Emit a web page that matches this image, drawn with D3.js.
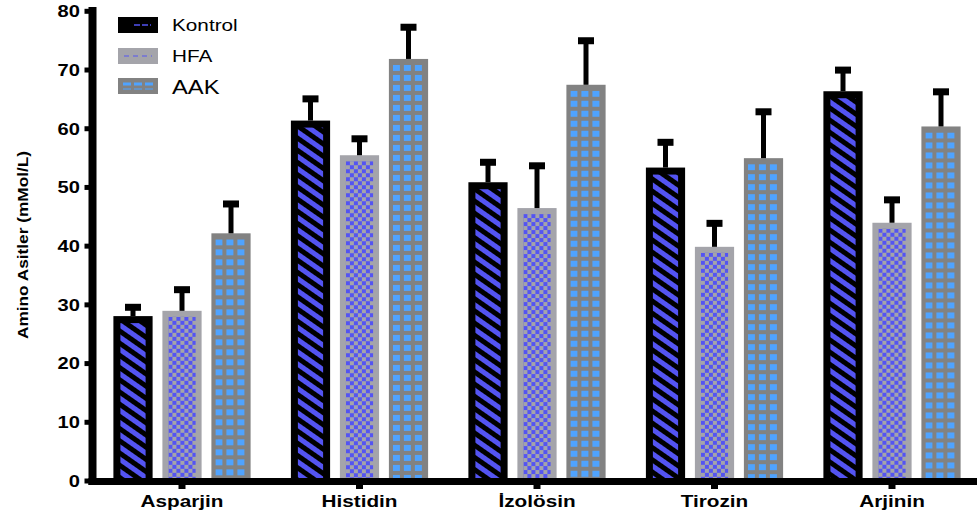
<!DOCTYPE html>
<html>
<head>
<meta charset="utf-8">
<script src="https://cdn.jsdelivr.net/npm/d3@7"></script>
<style>
  html, body { margin: 0; padding: 0; background: #fff; }
  svg { display: block; }
  text { font-family: "Liberation Sans", Arial, sans-serif; }
</style>
</head>
<body>
<svg id="chart" width="977" height="518"></svg>
<script>
// Amino acid concentrations per group (mean and SD)
const categories = ["Asparjin", "Histidin", "İzolösin", "Tirozin", "Arjinin"];
const series = ["Kontrol", "HFA", "AAK"];
const kontrol = [28.0, 61.3, 50.8, 53.3, 66.3];
const kontrolSd = [1.5, 3.7, 3.4, 4.3, 3.6];
const hfa = [28.9, 55.4, 46.4, 39.8, 43.9];
const hfaSd = [3.6, 2.8, 7.2, 4.0, 3.9];
const aak = [42.1, 71.8, 67.4, 54.9, 60.3];
const aakSd = [5.0, 5.4, 7.5, 7.9, 5.9];
const yTicks = [0, 10, 20, 30, 40, 50, 60, 70, 80];
const yTitle = "Amino Asitler (mMol/L)";

const means = { Kontrol: kontrol, HFA: hfa, AAK: aak };
const sds = { Kontrol: kontrolSd, HFA: hfaSd, AAK: aakSd };

const rows = [];
categories.forEach((c, i) => {
  series.forEach(s => rows.push({ cat: c, ser: s, v: means[s][i], sd: sds[s][i], id: "p" + i + s }));
});

const svg = d3.select("#chart");
const defs = svg.append("defs");
const SX = 1.22; // horizontal text stretch

const BLUE = "#5454f2";
const GRAY_L = "#a4a4aa";
const GRAY_D = "#828282";
const SKY = "#4fa3ff";

const y = d3.scaleLinear().domain([0, 80]).range([480.5, 10.8]);
const x = d3.scaleBand().domain(categories).range([93.25, 980.75]).paddingInner(0).paddingOuter(0);
const xs = d3.scaleBand().domain(series).range([15.25, 162.25]).paddingInner(0.2).paddingOuter(0.1);

// border width per series
const border = { Kontrol: 7, HFA: 6, AAK: 4 };
const baseFill = { Kontrol: "#000", HFA: GRAY_L, AAK: GRAY_D };

// Diagonal stripes for Kontrol
const stripe = defs.append("pattern").attr("id", "stripes")
  .attr("patternUnits", "userSpaceOnUse").attr("width", 10).attr("height", 10)
  .attr("patternTransform", "rotate(-55)");
stripe.append("rect").attr("width", 10).attr("height", 10).attr("fill", "#000");
stripe.append("rect").attr("width", 5).attr("height", 10).attr("fill", BLUE);

// Per-bar patterns so the tiles start at the bar's inner corner
const barX = d => x(d.cat) + xs(d.ser);
const pats = defs.selectAll("pattern.bar").data(rows.filter(d => d.ser !== "Kontrol")).join("pattern")
  .attr("class", "bar").attr("id", d => d.id)
  .attr("patternUnits", "userSpaceOnUse")
  .attr("x", d => barX(d) + border[d.ser])
  .attr("y", d => y(d.v) + (d.ser === "AAK" ? 6 : border[d.ser]))
  .attr("width", d => d.ser === "AAK" ? 11 : 8)
  .attr("height", d => d.ser === "AAK" ? 10 : 8);
pats.each(function (d) {
  const p = d3.select(this);
  if (d.ser === "HFA") {
    p.append("rect").attr("width", 8).attr("height", 8).attr("fill", GRAY_L);
    p.append("rect").attr("width", 4).attr("height", 4).attr("fill", BLUE);
    p.append("rect").attr("x", 4).attr("y", 4).attr("width", 4).attr("height", 4).attr("fill", BLUE);
  } else {
    p.append("rect").attr("width", 11).attr("height", 10).attr("fill", GRAY_D);
    p.append("rect").attr("width", 7).attr("height", 6).attr("fill", SKY);
  }
});

const patFill = d => d.ser === "Kontrol" ? "url(#stripes)" : "url(#" + d.id + ")";

// Bars
const bars = svg.append("g");
bars.selectAll("rect.outer").data(rows).join("rect").attr("class", "outer")
  .attr("x", barX).attr("width", xs.bandwidth())
  .attr("y", d => y(d.v)).attr("height", d => y(0) - y(d.v))
  .attr("fill", d => baseFill[d.ser]);
bars.selectAll("rect.inner").data(rows).join("rect").attr("class", "inner")
  .attr("x", d => barX(d) + border[d.ser])
  .attr("width", d => xs.bandwidth() - 2 * border[d.ser] + (d.ser === "AAK" ? 1 : 0))
  .attr("y", d => y(d.v) + (d.ser === "AAK" ? 6 : border[d.ser]))
  .attr("height", d => Math.max(0, y(0) - y(d.v) - (d.ser === "AAK" ? 6 : border[d.ser])))
  .attr("fill", patFill);

// Error bars (upper only)
const eb = svg.append("g");
const cx = d => barX(d) + xs.bandwidth() / 2;
eb.selectAll("line").data(rows).join("line")
  .attr("x1", cx).attr("x2", cx)
  .attr("y1", d => y(d.v)).attr("y2", d => y(d.v + d.sd))
  .attr("stroke", "#000").attr("stroke-width", 5);
eb.selectAll("rect").data(rows).join("rect")
  .attr("x", d => cx(d) - 8).attr("width", 16)
  .attr("y", d => y(d.v + d.sd) - 3.5).attr("height", 7)
  .attr("fill", "#000");

// Y axis
const yAxis = svg.append("g").attr("transform", "translate(92.5,0)")
  .call(d3.axisLeft(y).tickValues(yTicks).tickSize(8).tickSizeOuter(0));
yAxis.select(".domain").remove();
yAxis.selectAll(".tick line").attr("stroke", "#000").attr("stroke-width", 5);
yAxis.selectAll(".tick text")
  .attr("x", -12.5 / SX).attr("dy", "0.35em")
  .attr("transform", `scale(${SX},1)`)
  .style("font-size", "16.5px").style("font-weight", "bold").attr("fill", "#000");
svg.append("line").attr("x1", 92.5).attr("x2", 92.5).attr("y1", 7).attr("y2", 485)
  .attr("stroke", "#000").attr("stroke-width", 8);

// X axis
const xAxis = svg.append("g").attr("transform", "translate(0,481.5)")
  .call(d3.axisBottom(x).tickSize(7.5).tickSizeOuter(0));
xAxis.select(".domain").remove();
xAxis.selectAll(".tick line").attr("stroke", "#000").attr("stroke-width", 7);
xAxis.selectAll(".tick text")
  .attr("y", 25.5).attr("dy", 0)
  .attr("transform", `scale(${SX},1)`)
  .style("font-size", "17px").style("font-weight", "bold").attr("fill", "#000");
svg.append("line").attr("x1", 88.5).attr("x2", 977).attr("y1", 481.5).attr("y2", 481.5)
  .attr("stroke", "#000").attr("stroke-width", 7);

// Y axis title
svg.append("text")
  .attr("transform", "translate(28,245) rotate(-90) scale(1.15,1)")
  .attr("text-anchor", "middle")
  .style("font-size", "15px").style("font-weight", "bold")
  .text(yTitle);

// Legend
const legend = svg.append("g");
const legendRows = [
  { name: "Kontrol", y: 17, size: 17, base: "#000" },
  { name: "HFA", y: 48, size: 17, base: GRAY_L },
  { name: "AAK", y: 78, size: 19.5, base: GRAY_D }
];
const lg = legend.selectAll("g").data(legendRows).join("g")
  .attr("transform", d => `translate(118,${d.y})`);
lg.append("rect").attr("width", 40).attr("height", 16).attr("fill", d => d.base);
lg.filter(d => d.name === "Kontrol").append("line")
  .attr("x1", 16).attr("x2", 33).attr("y1", 8).attr("y2", 8)
  .attr("stroke", BLUE).attr("stroke-width", 1.5).attr("stroke-dasharray", "6 2");
lg.filter(d => d.name === "HFA").append("line")
  .attr("x1", 6).attr("x2", 34).attr("y1", 8).attr("y2", 8)
  .attr("stroke", BLUE).attr("stroke-width", 1).attr("stroke-dasharray", "5 4");
lg.filter(d => d.name === "AAK").append("line")
  .attr("x1", 5).attr("x2", 35).attr("y1", 6).attr("y2", 6)
  .attr("stroke", SKY).attr("stroke-width", 3).attr("stroke-dasharray", "8 3");
lg.filter(d => d.name === "AAK").append("line")
  .attr("x1", 5).attr("x2", 35).attr("y1", 11).attr("y2", 11)
  .attr("stroke", SKY).attr("stroke-width", 1).attr("stroke-dasharray", "8 3");
lg.append("text")
  .attr("transform", d => `translate(54,${d.name === "AAK" ? 16 : 14}) scale(${SX},1)`)
  .style("font-size", d => d.size + "px")
  .attr("fill", "#000")
  .text(d => d.name);
</script>
</body>
</html>
